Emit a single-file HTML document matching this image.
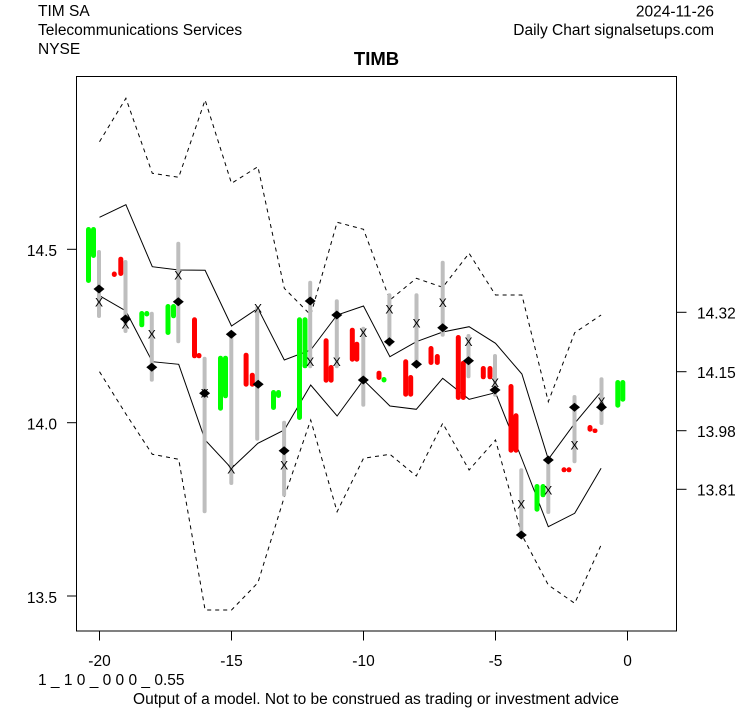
<!DOCTYPE html>
<html><head><meta charset="utf-8"><style>
html,body{margin:0;padding:0;background:#fff;}
svg{display:block;}
text{font-family:"Liberation Sans",Arial,sans-serif;fill:#000;}
</style></head><body>
<svg width="753" height="708" viewBox="0 0 753 708" xmlns="http://www.w3.org/2000/svg">
<rect width="753" height="708" fill="#fff"/>
<!-- header -->
<text x="38" y="16" font-size="15.5">TIM SA</text>
<text x="38" y="35" font-size="15.5">Telecommunications Services</text>
<text x="38" y="54" font-size="15.5">NYSE</text>
<text x="714" y="16.5" font-size="15.5" text-anchor="end">2024-11-26</text>
<text x="714" y="35" font-size="15.5" text-anchor="end">Daily Chart signalsetups.com</text>
<text x="376.5" y="65" font-size="18.5" font-weight="bold" text-anchor="middle">TIMB</text>

<!-- plot box -->
<rect x="76.5" y="76.5" width="600" height="554.5" fill="none" stroke="#000" stroke-width="1"/>

<!-- left axis -->
<g stroke="#000" stroke-width="1">
<line x1="67" y1="249.3" x2="76.5" y2="249.3"/>
<line x1="67" y1="422.7" x2="76.5" y2="422.7"/>
<line x1="67" y1="596" x2="76.5" y2="596"/>
</g>
<g font-size="15.5" text-anchor="end">
<text x="57" y="256">14.5</text>
<text x="57" y="429.5">14.0</text>
<text x="57" y="603">13.5</text>
</g>
<!-- right axis -->
<g stroke="#000" stroke-width="1">
<line x1="676.5" y1="312.3" x2="686.5" y2="312.3"/>
<line x1="676.5" y1="371.7" x2="686.5" y2="371.7"/>
<line x1="676.5" y1="430.7" x2="686.5" y2="430.7"/>
<line x1="676.5" y1="489.3" x2="686.5" y2="489.3"/>
</g>
<g font-size="15.5">
<text x="697" y="318.5">14.32</text>
<text x="697" y="378">14.15</text>
<text x="697" y="437">13.98</text>
<text x="697" y="495.5">13.81</text>
</g>
<!-- bottom axis -->
<g stroke="#000" stroke-width="1">
<line x1="99.5" y1="631" x2="99.5" y2="640.5"/>
<line x1="231.5" y1="631" x2="231.5" y2="640.5"/>
<line x1="363.5" y1="631" x2="363.5" y2="640.5"/>
<line x1="495.5" y1="631" x2="495.5" y2="640.5"/>
<line x1="627.5" y1="631" x2="627.5" y2="640.5"/>
</g>
<g font-size="15.5" text-anchor="middle">
<text x="99.5" y="666">-20</text>
<text x="231.5" y="666">-15</text>
<text x="363.5" y="666">-10</text>
<text x="495.5" y="666">-5</text>
<text x="627.5" y="666">0</text>
</g>
<text x="38" y="685" font-size="15.5">1 _ 1 0 _ 0 0 0 _ 0.55</text>
<text x="376" y="704" font-size="15.5" text-anchor="middle">Output of a model. Not to be construed as trading or investment advice</text>

<!-- bands -->
<g fill="none" stroke="#000" stroke-width="1">
<polyline stroke-dasharray="4,4" points="99.5,141.7 125.9,98.3 152.3,173.3 178.7,177.3 205.1,100 231.5,183.3 257.9,166.7 284.3,288.3 310.7,315 337.1,222.3 363.5,229.3 389.9,300 416.3,278.3 442.7,287.3 469.1,253.3 495.5,295 521.9,295 548.3,401.7 574.7,332.7 601.1,315"/>
<polyline points="99.5,217.3 125.9,204.7 152.3,266.7 178.7,270 205.1,270.3 231.5,326 257.9,308.3 284.3,360 310.7,350 337.1,315 363.5,306 389.9,356.7 416.3,341.7 442.7,332 469.1,326.7 495.5,343.3 521.9,374 548.3,459.3 574.7,423.3 601.1,391.7"/>
<polyline points="99.5,295.7 125.9,311 152.3,361.7 178.7,364.3 205.1,440 231.5,468.3 257.9,443.3 284.3,430 310.7,385 337.1,416 363.5,380 389.9,406 416.3,409.3 442.7,378.3 469.1,399.3 495.5,392.7 521.9,459 548.3,526.7 574.7,513.3 601.1,468.3"/>
<polyline stroke-dasharray="4,4" points="99.5,371.7 125.9,414 152.3,454.3 178.7,459.3 205.1,610 231.5,610 257.9,582.7 284.3,497 310.7,420 337.1,511.7 363.5,458.3 389.9,454.3 416.3,476 442.7,423.3 469.1,470 495.5,440 521.9,535 548.3,585 574.7,603.3 601.1,545"/>
</g>

<!-- grey ranges -->
<g fill="#bebebe">
<rect x="97" y="250" width="4" height="68" rx="2"/>
<rect x="123.5" y="260" width="4" height="73" rx="2"/>
<rect x="149.8" y="311.7" width="4" height="70" rx="2"/>
<rect x="176.3" y="241.7" width="4" height="101.6" rx="2"/>
<rect x="202.6" y="356.7" width="4" height="156.6" rx="2"/>
<rect x="229.3" y="335" width="4" height="150" rx="2"/>
<rect x="255.2" y="306" width="4" height="134.7" rx="2"/>
<rect x="282.1" y="420.7" width="4" height="76" rx="2"/>
<rect x="308.2" y="280.7" width="4" height="87.6" rx="2"/>
<rect x="334.8" y="299.3" width="4" height="69" rx="2"/>
<rect x="361.3" y="326.7" width="4" height="80" rx="2"/>
<rect x="387.4" y="293.3" width="4" height="53.4" rx="2"/>
<rect x="414.5" y="293.3" width="4" height="75" rx="2"/>
<rect x="440.7" y="260.7" width="4" height="76" rx="2"/>
<rect x="466.5" y="334" width="4" height="44.3" rx="2"/>
<rect x="493" y="354" width="4" height="42.7" rx="2"/>
<rect x="519.3" y="468.3" width="4" height="68.4" rx="2"/>
<rect x="546.3" y="456.7" width="4" height="57.3" rx="2"/>
<rect x="572.5" y="395" width="4" height="68.3" rx="2"/>
<rect x="599.5" y="377.3" width="4" height="47.7" rx="2"/>
</g>

<!-- colored bars -->
<g fill="#00ff00">
<rect x="86" y="227" width="5" height="56" rx="2.5"/>
<rect x="91" y="227" width="5" height="31" rx="2.5"/>
<rect x="139.3" y="311" width="5" height="16.3" rx="2.5"/>
<rect x="144.3" y="311" width="5" height="5.5" rx="2.5"/>
<rect x="165.5" y="304" width="5" height="31" rx="2.5"/>
<rect x="171" y="304" width="5" height="14.3" rx="2.5"/>
<rect x="218" y="355.7" width="5" height="55" rx="2.5"/>
<rect x="223" y="355.7" width="5" height="42.6" rx="2.5"/>
<rect x="271" y="390" width="5" height="20" rx="2.5"/>
<rect x="276" y="390" width="5" height="8" rx="2.5"/>
<rect x="297" y="317.3" width="5" height="102.7" rx="2.5"/>
<rect x="302.5" y="317.3" width="5" height="51" rx="2.5"/>
<rect x="381.5" y="377" width="5" height="5.5" rx="2.5"/>
<rect x="534.5" y="484" width="5" height="27.7" rx="2.5"/>
<rect x="540.5" y="484" width="5" height="13.3" rx="2.5"/>
<rect x="615.3" y="380" width="5" height="27.7" rx="2.5"/>
<rect x="620.3" y="380" width="5" height="21.7" rx="2.5"/>
</g>
<g fill="#ff0000">
<rect x="111.8" y="271.5" width="5" height="5.5" rx="2.5"/>
<rect x="118.3" y="256.7" width="5" height="19.3" rx="2.5"/>
<rect x="192" y="317.3" width="5" height="41" rx="2.5"/>
<rect x="196.5" y="353" width="5" height="5.3" rx="2.5"/>
<rect x="243.6" y="352.7" width="5" height="34" rx="2.5"/>
<rect x="249.8" y="372.7" width="5" height="14" rx="2.5"/>
<rect x="323.6" y="338.3" width="5" height="44.4" rx="2.5"/>
<rect x="328.6" y="365" width="5" height="17.7" rx="2.5"/>
<rect x="349.8" y="327.7" width="5" height="34" rx="2.5"/>
<rect x="354.3" y="341.7" width="5" height="20" rx="2.5"/>
<rect x="376.5" y="370.7" width="5" height="9.3" rx="2.5"/>
<rect x="403.2" y="359.3" width="5" height="37.4" rx="2.5"/>
<rect x="408.2" y="375" width="5" height="21.7" rx="2.5"/>
<rect x="428.5" y="346" width="5" height="19" rx="2.5"/>
<rect x="434.8" y="354" width="5" height="11" rx="2.5"/>
<rect x="455.8" y="335" width="5" height="65" rx="2.5"/>
<rect x="460.8" y="360.7" width="5" height="39.3" rx="2.5"/>
<rect x="480.8" y="366" width="5" height="13.3" rx="2.5"/>
<rect x="487.5" y="366" width="5" height="13.3" rx="2.5"/>
<rect x="508.5" y="384" width="5" height="68.7" rx="2.5"/>
<rect x="513.5" y="413.3" width="5" height="39.4" rx="2.5"/>
<rect x="561.5" y="467.3" width="5" height="5" rx="2.5"/>
<rect x="566.5" y="467.3" width="5" height="5" rx="2.5"/>
<rect x="587.5" y="425" width="5" height="6.7" rx="2.5"/>
<rect x="592.5" y="428.5" width="5" height="4.5" rx="2.2"/>
</g>

<!-- diamonds -->
<g fill="#000">
<polygon points="93.5,289 99,284.5 104.5,289 99,293.5"/>
<polygon points="120,319 125.5,314.5 131,319 125.5,323.5"/>
<polygon points="146.3,367.3 151.8,362.8 157.3,367.3 151.8,371.8"/>
<polygon points="172.8,301.7 178.3,297.2 183.8,301.7 178.3,306.2"/>
<polygon points="199.1,393.3 204.6,388.8 210.1,393.3 204.6,397.8"/>
<polygon points="225.8,334.3 231.3,329.8 236.8,334.3 231.3,338.8"/>
<polygon points="252.7,384.3 258.2,379.8 263.7,384.3 258.2,388.8"/>
<polygon points="278.6,450.7 284.1,446.2 289.6,450.7 284.1,455.2"/>
<polygon points="304.7,301 310.2,296.5 315.7,301 310.2,305.5"/>
<polygon points="331.3,315 336.8,310.5 342.3,315 336.8,319.5"/>
<polygon points="357.8,380 363.3,375.5 368.8,380 363.3,384.5"/>
<polygon points="383.9,341.7 389.4,337.2 394.9,341.7 389.4,346.2"/>
<polygon points="411,364.3 416.5,359.8 422,364.3 416.5,368.8"/>
<polygon points="437.2,327.7 442.7,323.2 448.2,327.7 442.7,332.2"/>
<polygon points="463,360.7 468.5,356.2 474,360.7 468.5,365.2"/>
<polygon points="489.5,390 495,385.5 500.5,390 495,394.5"/>
<polygon points="515.8,535 521.3,530.5 526.8,535 521.3,539.5"/>
<polygon points="542.8,460 548.3,455.5 553.8,460 548.3,464.5"/>
<polygon points="569,407.3 574.5,402.8 580,407.3 574.5,411.8"/>
<polygon points="596,407.3 601.5,402.8 607,407.3 601.5,411.8"/>
</g>

<!-- X markers -->
<g font-size="12" text-anchor="middle" fill="#111">
<text x="99" y="306.3">X</text>
<text x="125.5" y="328.3">X</text>
<text x="151.8" y="338.6">X</text>
<text x="178.3" y="279.3">X</text>
<text x="204.6" y="397.3">X</text>
<text x="231.3" y="473.6">X</text>
<text x="258" y="312.6">X</text>
<text x="284.1" y="469.3">X</text>
<text x="310.2" y="366">X</text>
<text x="336.8" y="366">X</text>
<text x="363.3" y="337">X</text>
<text x="389.4" y="313.6">X</text>
<text x="416.5" y="327.6">X</text>
<text x="442.7" y="307">X</text>
<text x="468.5" y="346">X</text>
<text x="495" y="387">X</text>
<text x="521.3" y="508.6">X</text>
<text x="548.3" y="494.3">X</text>
<text x="574.5" y="449.3">X</text>
<text x="601.5" y="406">X</text>
</g>
</svg>
</body></html>
